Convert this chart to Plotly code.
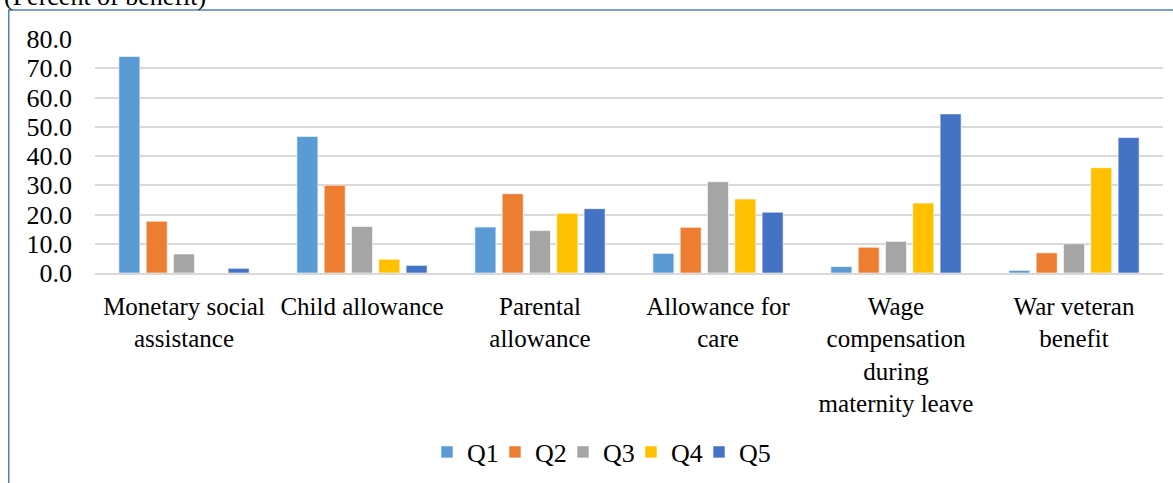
import plotly.graph_objects as go

categories = ["Monetary social<br>assistance", "Child allowance", "Parental<br>allowance",
              "Allowance for<br>care", "Wage<br>compensation<br>during<br>maternity leave",
              "War veteran<br>benefit"]
series_names = ["Q1", "Q2", "Q3", "Q4", "Q5"]
q1 = [74.0, 46.7, 15.7, 6.7, 2.2, 0.9]
q2 = [17.7, 30.0, 27.1, 15.6, 8.8, 6.9]
q3 = [6.5, 15.9, 14.5, 31.2, 10.8, 10.0]
q4 = [0.0, 4.7, 20.4, 25.3, 23.9, 36.0]
q5 = [1.6, 2.6, 22.0, 20.8, 54.4, 46.3]
colors = ["#5B9BD5", "#ED7D31", "#A5A5A5", "#FFC000", "#4472C4"]
tick_vals = [0, 10, 20, 30, 40, 50, 60, 70, 80]

W, H = 1173, 483
# plot area in page pixels: x 95..1163, y 39..274
L, T = 95, 39
R = W - 1163
B = H - 274
pw, ph = W - L - R, H - T - B

def px_x(x):
    return (x - L) / pw

def px_y(y):
    return 1 + (T - y) / ph

FONT = "Liberation Serif"
FS = 25
FS2 = 26

fig = go.Figure()
for name, vals, c in zip(series_names, [q1, q2, q3, q4, q5], colors):
    fig.add_trace(go.Bar(x=categories, y=vals, name=name, marker_color=c,
                         marker_line=dict(color="rgba(255,255,255,0.6)", width=1)))
# invisible spacer legend entry so the last label is not clipped
fig.add_trace(go.Scatter(x=[None], y=[None], mode="markers", name=" ",
                         marker=dict(color="rgba(0,0,0,0)"), hoverinfo="skip"))

fig.update_layout(
    width=W, height=H,
    margin=dict(l=L, r=R, t=T, b=B, pad=0),
    barmode="group", bargap=0.233, bargroupgap=0.23,
    plot_bgcolor="white", paper_bgcolor="white",
    font=dict(family=FONT, size=FS, color="black"),
    xaxis=dict(showgrid=False, showline=True, linecolor="#D9D9D9", linewidth=1.5,
               ticks="", ticklabelstandoff=10,
               tickfont=dict(family=FONT, size=FS, color="black"), tickangle=0),
    yaxis=dict(range=[0, 80], tickvals=tick_vals, tickformat=".1f", showgrid=True,
               gridcolor="#D9D9D9", gridwidth=1.5, zeroline=False, showline=False, ticks="",
               ticklabelstandoff=22,
               tickfont=dict(family=FONT, size=FS2, color="black")),
    legend=dict(orientation="h", x=px_x(631), xanchor="center", y=px_y(452), yanchor="middle",
                font=dict(family=FONT, size=FS2, color="black"), itemwidth=30,
                entrywidth=23, entrywidthmode="pixels", traceorder="normal"),
    showlegend=True,
)

fig.add_shape(type="rect", xref="paper", yref="paper",
              x0=px_x(8.75), y0=px_y(10), x1=px_x(1300), y1=px_y(600),
              line=dict(color="#4F81BD", width=1.5), fillcolor="rgba(0,0,0,0)", layer="below")

fig.add_annotation(text="(Percent of benefit)", xref="paper", yref="paper",
                   x=px_x(2), y=px_y(13), xanchor="left", yanchor="bottom", showarrow=False,
                   font=dict(family=FONT, size=FS2, color="black"))

fig.write_html("out.html", config={"displayModeBar": False},
               post_script="document.body.style.margin='0';")
